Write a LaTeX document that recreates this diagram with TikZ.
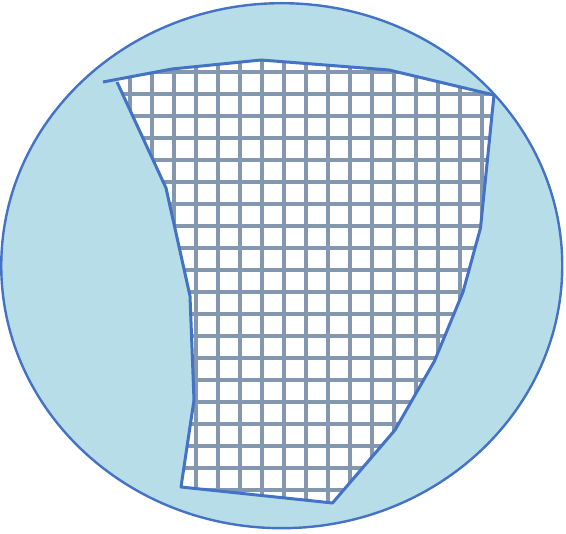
\documentclass[tikz,border=0pt]{standalone}
\definecolor{edgeblue}{HTML}{4472C4}
\definecolor{skyfill}{HTML}{B6DDE8}
\definecolor{gridgray}{HTML}{8497B0}
\tikzset{
  outline/.style={draw=edgeblue, line width=3pt, line join=round},
  ringline/.style={draw=edgeblue, line width=2.4pt},
  gridline/.style={draw=gridgray, line width=3.2pt},
}
\begin{document}
\begin{tikzpicture}[x=1pt,y=-1pt]
\useasboundingbox (0,0) rectangle (566,534);
% outer ellipse
\path[fill=skyfill, ringline] (281.75,265.7) ellipse [x radius=280.5, y radius=262.5];
% inner region
\def\region{(116,79.5) -- (172,69) -- (261,60) -- (389,70) -- (494,95) -- (480.5,228) -- (463,292) -- (434.5,361) -- (395,430) -- (332.5,503) -- (181,487) -- (194,400) -- (190,296) -- (166,188) -- cycle}
\fill[white] \region;
\begin{scope}
  \clip \region;
  \foreach \k in {0,...,17} {
    \draw[gridline] ({130+22*\k},40) -- ({130+22*\k},520);
  }
  \foreach \k in {0,...,19} {
    \draw[gridline] (90,{72+22*\k}) -- (520,{72+22*\k});
  }
\end{scope}
\draw[outline] (103,82) -- (172,69) -- (261,60) -- (389,70) -- (494,95) -- (480.5,228) -- (463,292) -- (434.5,361) -- (395,430) -- (332.5,503) -- (181,487) -- (194,400) -- (190,296) -- (166,188) -- (117,82);
\end{tikzpicture}
\end{document}
